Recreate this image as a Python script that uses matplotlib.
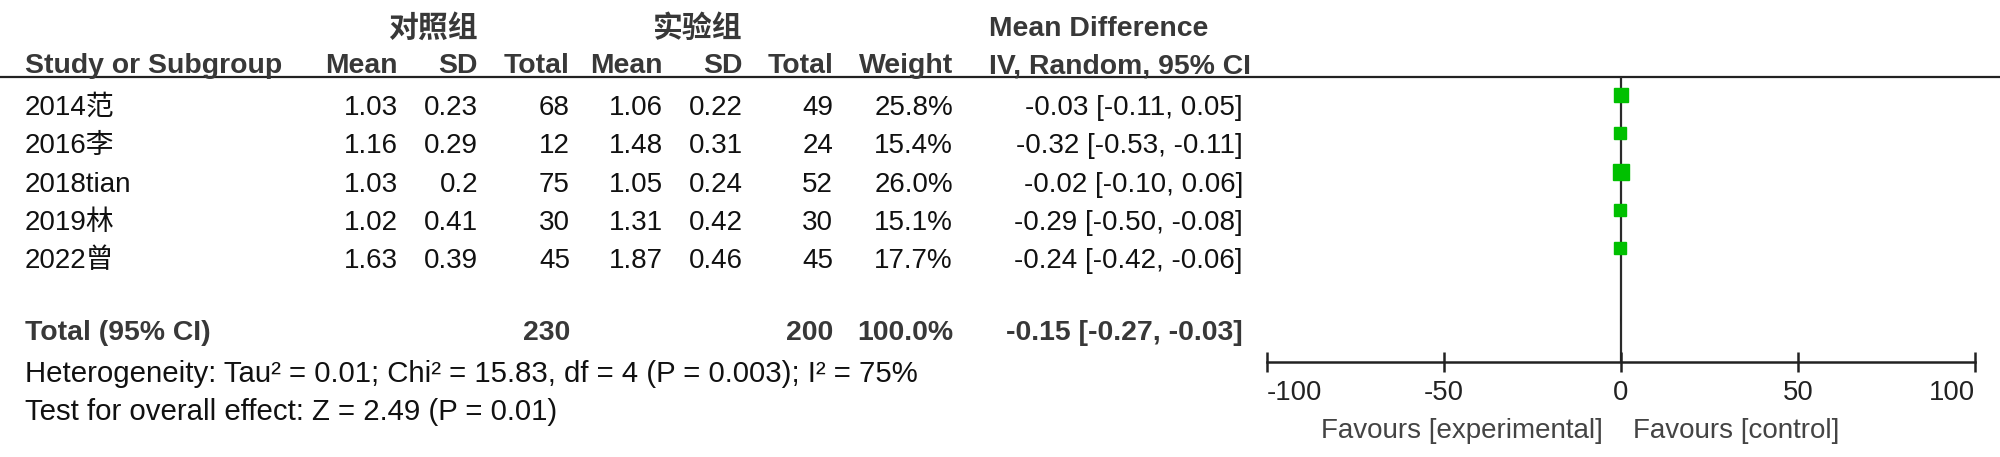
import numpy as np
import matplotlib
matplotlib.use('Agg')
import matplotlib.pyplot as plt

plt.rcParams['font.family'] = ['Liberation Sans', 'Noto Sans CJK SC', 'DejaVu Sans']

# data
studies = ['2014范', '2016李', '2018tian', '2019林', '2022曾']
ctrl_mean = [1.03, 1.16, 1.03, 1.02, 1.63]
ctrl_sd = [0.23, 0.29, 0.2, 0.41, 0.39]
ctrl_n = [68, 12, 75, 30, 45]
exp_mean = [1.06, 1.48, 1.05, 1.31, 1.87]
exp_sd = [0.22, 0.31, 0.24, 0.42, 0.46]
exp_n = [49, 24, 52, 30, 45]
weight = [25.8, 15.4, 26.0, 15.1, 17.7]
md = [-0.03, -0.32, -0.02, -0.29, -0.24]
ci_lo = [-0.11, -0.53, -0.10, -0.50, -0.42]
ci_hi = [0.05, -0.11, 0.06, -0.08, -0.06]
total_md, total_lo, total_hi = -0.15, -0.27, -0.03
xticks = [-100, -50, 0, 50, 100]
heterogeneity = 'Heterogeneity: Tau² = 0.01; Chi² = 15.83, df = 4 (P = 0.003); I² = 75%'
overall = 'Test for overall effect: Z = 2.49 (P = 0.01)'

W, H = 2000, 457
fig = plt.figure(figsize=(W / 100, H / 100), dpi=100)
fig.patch.set_facecolor('white')

# text layer in pixel coordinates
ax = fig.add_axes([0, 0, 1, 1])
ax.set_xlim(0, W)
ax.set_ylim(H, 0)
ax.axis('off')

head_c = '#383838'
txt_c = '#111111'
fs = 20
fs_b = 20.4
fs_note = 21.2

base0, dy = 115, 38.3
rows_base = [base0 + dy * i for i in range(len(studies))]
total_base = 340

# column right edges
c_mean1, c_sd1, c_n1 = 398, 478, 570
c_mean2, c_sd2, c_n2 = 663, 743, 833
c_w, c_ci = 953, 1243
x_left = 25
x_mdhead = 989

# group headers
ax.text(c_sd1, 28, '对照组', ha='right', va='center', fontsize=21.5,
        fontweight='bold', color=head_c, family=['Noto Sans CJK SC'])
ax.text(c_sd2, 28, '实验组', ha='right', va='center', fontsize=21.5,
        fontweight='bold', color=head_c, family=['Noto Sans CJK SC'])
ax.text(x_mdhead, 36, 'Mean Difference', ha='left', va='baseline', fontsize=fs_b,
        fontweight='bold', color=head_c)

hy = 73
hdr = [(x_left, 'Study or Subgroup', 'left'), (c_mean1, 'Mean', 'right'),
       (c_sd1, 'SD', 'right'), (c_n1, 'Total', 'right'),
       (c_mean2, 'Mean', 'right'), (c_sd2, 'SD', 'right'),
       (c_n2, 'Total', 'right'), (c_w, 'Weight', 'right'),
       (x_mdhead, 'IV, Random, 95% CI', 'left')]
for x, s, ha in hdr:
    ax.text(x, hy, s, ha=ha, va='baseline', fontsize=fs_b, fontweight='bold', color=head_c)

ax.plot([0, W], [77, 77], color='#222222', lw=1.6, solid_capstyle='butt')

for i, y in enumerate(rows_base):
    ax.text(x_left, y, studies[i], ha='left', va='baseline', fontsize=fs, color=txt_c)
    vals = [(c_mean1, f'{ctrl_mean[i]:g}'), (c_sd1, f'{ctrl_sd[i]:g}'),
            (c_n1, f'{ctrl_n[i]}'), (c_mean2, f'{exp_mean[i]:g}'),
            (c_sd2, f'{exp_sd[i]:g}'), (c_n2, f'{exp_n[i]}'),
            (c_w, f'{weight[i]:.1f}%'),
            (c_ci, f'{md[i]:.2f} [{ci_lo[i]:.2f}, {ci_hi[i]:.2f}]')]
    for x, s in vals:
        ax.text(x, y, s, ha='right', va='baseline', fontsize=fs, color=txt_c)

# total row
tot = [(x_left, 'Total (95% CI)', 'left'), (c_n1, f'{sum(ctrl_n)}', 'right'),
       (c_n2, f'{sum(exp_n)}', 'right'), (c_w, f'{sum(weight):.1f}%', 'right'),
       (c_ci, f'{total_md:.2f} [{total_lo:.2f}, {total_hi:.2f}]', 'right')]
for x, s, ha in tot:
    ax.text(x, total_base, s, ha=ha, va='baseline', fontsize=fs_b,
            fontweight='bold', color=head_c)

ax.text(x_left, 382, heterogeneity, ha='left', va='baseline', fontsize=fs_note, color=txt_c)
ax.text(x_left, 420, overall, ha='left', va='baseline', fontsize=fs_note, color=txt_c)

# forest plot axes: -100..100 spans px 1267..1975, vertical 77..362
px_l, px_r, px_t, px_b = 1267, 1975, 77, 362
fx = fig.add_axes([px_l / W, 1 - px_b / H, (px_r - px_l) / W, (px_b - px_t) / H])
fx.set_xlim(-100, 100)
fx.set_ylim(px_b, px_t)
fx.patch.set_alpha(0)
for s in ['top', 'left', 'right']:
    fx.spines[s].set_visible(False)
fx.spines['bottom'].set_linewidth(1.8)
fx.spines['bottom'].set_color('#222222')
fx.set_yticks([])
fx.set_xticks(xticks)
fx.set_xticklabels([f'{t}' for t in xticks])
fx.tick_params(axis='x', direction='inout', length=14, width=1.8, color='#222222',
               labelsize=19.8, labelcolor='#222222', pad=6)
labels = fx.get_xticklabels()
labels[0].set_horizontalalignment('left')
labels[-1].set_horizontalalignment('right')

fx.axvline(0, color='#2a2a2a', lw=1.6, zorder=1)

# squares sit a little above the text centre
sq_y = [b - 20 for b in rows_base]
for i, y in enumerate(sq_y):
    fx.plot([ci_lo[i], ci_hi[i]], [y, y], color='#222222', lw=1)
    side = 2.95 * np.sqrt(weight[i])
    fx.plot(md[i], y, marker='s', ms=side * 0.72, color='#00c000',
            mec='#00c000', zorder=3)

yd = total_base - 20
fx.fill([total_lo, total_md, total_hi, total_md], [yd, yd - 5, yd, yd + 5],
        color='#222222', lw=0, zorder=3)

ax.text(1603, 438, 'Favours [experimental]', ha='right', va='baseline', fontsize=20,
        color='#444444')
ax.text(1633, 438, 'Favours [control]', ha='left', va='baseline', fontsize=20,
        color='#444444')

fig.savefig('out.png', dpi=100, facecolor='white')
